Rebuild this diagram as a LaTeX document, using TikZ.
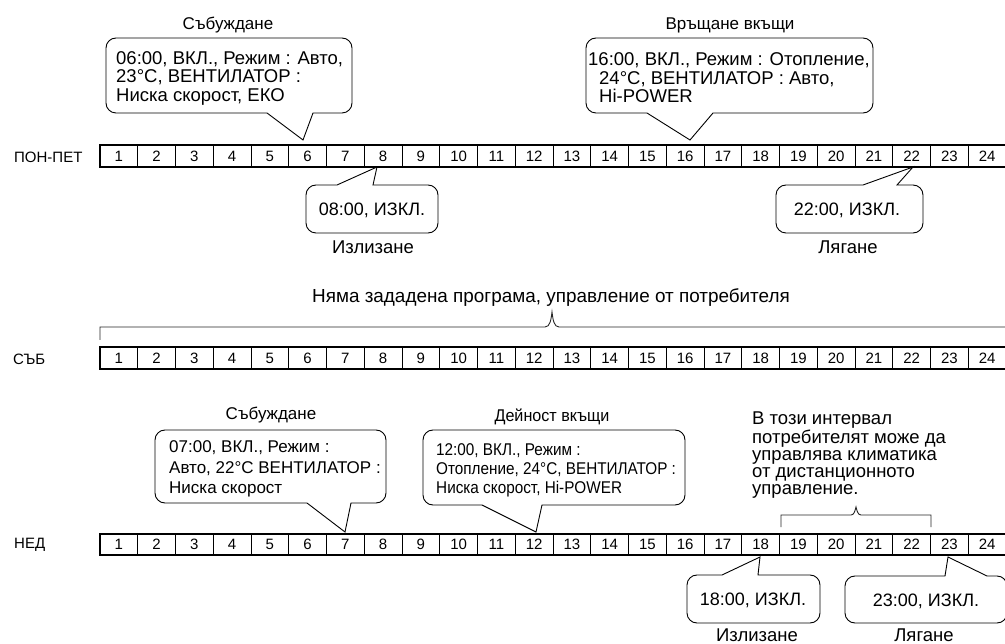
\documentclass[tikz,border=0pt]{standalone}
\usepackage{fontspec}
\setmainfont{Liberation Sans}
\newfontfamily\condfont[FakeStretch=0.9]{Liberation Sans}
\newfontfamily\semicondfont[FakeStretch=0.95]{Liberation Sans}
\newcommand\bubbledown[7]{% x1 y1 x2 y2 b1 b2 tip
  \draw[bubble] (#1+10,#2) -- (#3-10,#2) arc[start angle=270,end angle=360,radius=10]
    -- (#3,#4-10) arc[start angle=0,end angle=90,radius=10]
    -- (#6,#4) -- (#7) -- (#5,#4)
    -- (#1+10,#4) arc[start angle=90,end angle=180,radius=10]
    -- (#1,#2+10) arc[start angle=180,end angle=270,radius=10] -- cycle;}
\newcommand\bubbleup[7]{% x1 y1 x2 y2 b1 b2 tip
  \draw[bubble] (#1+10,#2) -- (#5,#2) -- (#7) -- (#6,#2)
    -- (#3-10,#2) arc[start angle=270,end angle=360,radius=10]
    -- (#3,#4-10) arc[start angle=0,end angle=90,radius=10]
    -- (#1+10,#4) arc[start angle=90,end angle=180,radius=10]
    -- (#1,#2+10) arc[start angle=180,end angle=270,radius=10] -- cycle;}
\begin{document}
\begin{tikzpicture}[x=1pt,y=-1pt,
  cell/.style={draw=black, line width=0.7pt, minimum width=37.75pt, minimum height=21pt,
    inner sep=0pt, font=\fontsize{15}{15}\selectfont},
  rowframe/.style={draw=black, line width=1.8pt},
  bubble/.style={draw=black, line width=0.9pt},
  btext/.style={inner sep=0pt, align=left, font=\fontsize{18.5}{18.5}\selectfont},
  otext/.style={inner sep=0pt, font=\fontsize{18}{18}\selectfont},
  ttl/.style={inner sep=0pt, font=\fontsize{17}{17}\selectfont},
  sub/.style={inner sep=0pt, font=\fontsize{18.5}{18.5}\selectfont},
  lbl/.style={inner sep=0pt, anchor=west, font=\fontsize{15}{15}\selectfont},
  brk/.style={draw=black!85, line width=0.9pt}]
\useasboundingbox (0,0) rectangle (1005,644);
\clip (0,0) rectangle (1005,644);
\fill[white] (0,0) rectangle (1005,644);

% rows
\foreach \i in {1,...,24} {
  \node[cell] (p\i) at ({100+(\i-0.5)*37.75},156) {\i};
  \node[cell] (s\i) at ({100+(\i-0.5)*37.75},358) {\i};
  \node[cell] (n\i) at ({100+(\i-0.5)*37.75},544.5) {\i};
}
\draw[rowframe] (p1.north west) rectangle (p24.south east);
\draw[rowframe] (s1.north west) rectangle (s24.south east);
\draw[rowframe] (n1.north west) rectangle (n24.south east);

\node[lbl] (lp) at (14,157) {ПОН-ПЕТ};
\node[lbl] (ls) at (13,359) {СЪБ};
\node[lbl] (ln) at (14,545) {НЕД};

% tips
\coordinate (t1) at (303,140);
\coordinate (t2) at (690,140);
\coordinate (t3) at (377,167);
\coordinate (t4) at (913,167);
\coordinate (t5) at (345,532);
\coordinate (t6) at (536,532);
\coordinate (t7) at (760,557);
\coordinate (t8) at (948,557);

% bubbles
\bubbledown{106}{38}{352}{113}{267}{313}{t1}
\bubbledown{586}{38}{873}{113}{647}{713}{t2}
\bubbleup{306}{185}{438}{233}{337}{373}{t3}
\bubbleup{776}{185}{923}{233}{863}{897}{t4}
\bubbledown{155}{430}{386}{503}{307}{351}{t5}
\bubbledown{423}{430}{685}{505}{482}{542}{t6}
\bubbleup{687}{575}{820}{623}{722}{758}{t7}
\bubbleup{845}{576}{1007}{623}{945}{987}{t8}

% bubble texts
\node[btext, anchor=west] (w1) at (116,78) {06:00, ВКЛ., Режим : Авто,\\23°C, ВЕНТИЛАТОР :\\Ниска скорост, ЕКО};
\node[btext, anchor=west] (w2) at (588,78) {16:00, ВКЛ., Режим : Отопление,\\\hspace*{11pt}24°C, ВЕНТИЛАТОР : Авто,\\\hspace*{11pt}Hi-POWER};
\node[otext] (w3) at (372,210) {08:00, ИЗКЛ.};
\node[otext] (w4) at (847,210) {22:00, ИЗКЛ.};
\node[btext, anchor=west, font=\fontsize{17}{20.5}\selectfont] (w5) at (169,469) {07:00, ВКЛ., Режим :\\Авто, 22°C ВЕНТИЛАТОР :\\Ниска скорост};
\node[btext, anchor=west, font=\condfont\fontsize{17}{19}\selectfont] (w6) at (436,470) {12:00, ВКЛ., Режим :\\Отопление, 24°C, ВЕНТИЛАТОР :\\Ниска скорост, Hi-POWER};
\node[otext] (w7) at (753,600) {18:00, ИЗКЛ.};
\node[otext] (w8) at (926,601) {23:00, ИЗКЛ.};

% titles and labels
\node[ttl] (h1) at (228,25) {Събуждане};
\node[ttl] (h2) at (730,25) {Връщане вкъщи};
\node[ttl] (h3) at (271,415) {Събуждане};
\node[ttl, font=\semicondfont\fontsize{17}{17}\selectfont] (h4) at (552,417) {Дейност вкъщи};
\node[sub] (f1) at (373,247) {Излизане};
\node[sub] (f2) at (848,247) {Лягане};
\node[sub] (f3) at (757,635) {Излизане};
\node[sub] (f4) at (924,635) {Лягане};

% Saturday caption and brace
\node[otext, font=\fontsize{18.9}{18.9}\selectfont] (cap) at (551,298) {Няма зададена програма, управление от потребителя};
\draw[brk] (100,340) -- (100,327) -- (545,327)
  .. controls (550,327) and (551,320) .. (552,312)
  .. controls (553,320) and (554,327) .. (559,327) -- (1010,327) -- (1010,340);

% Sunday interval note and bracket
\node[inner sep=0pt, anchor=west, align=left, font=\fontsize{18.5}{17}\selectfont] (iv) at (752,455)
  {В този интервал\\потребителят може да\\управлява климатика\\от дистанционното\\управление.};
\draw[brk] (781,527) -- (781,515) -- (851,515)
  .. controls (854,515) and (855,511) .. (856,507)
  .. controls (857,511) and (858,515) .. (861,515) -- (931,515) -- (931,527);
\end{tikzpicture}
\end{document}
